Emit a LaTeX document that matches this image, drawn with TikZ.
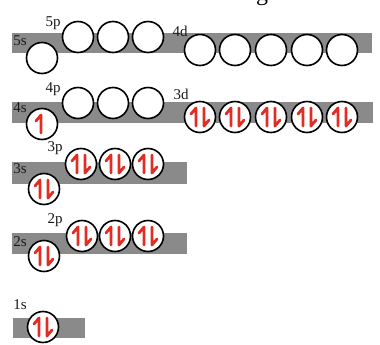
\documentclass[tikz,border=0pt]{standalone}
\usepackage{fontspec}
\setmainfont{Liberation Serif}
\definecolor{barc}{RGB}{138,138,138}
\definecolor{spin}{RGB}{225,45,35}
\tikzset{
 orb/.style={circle, draw=black, line width=1.6pt, fill=white, minimum size=31pt, inner sep=0pt},
 lvl/.style={font=\fontsize{15}{15}\selectfont, inner sep=0pt, text=black!90},
 barfill/.style={fill=barc},
 spinline/.style={draw=spin, line width=2.8pt, line cap=round, line join=round},
}
\newcommand\upspin[1]{\draw[spinline] ([shift={(-4,9)}]#1.center) -- ([shift={(-4,-9)}]#1.center) -- ([shift={(-9,-3)}]#1.center);}
\newcommand\downspin[1]{\draw[spinline] ([shift={(4,-9)}]#1.center) -- ([shift={(4,9)}]#1.center) -- ([shift={(9,3)}]#1.center);}
\newcommand\pairspin[1]{\upspin{#1}\downspin{#1}}
\begin{document}
\begin{tikzpicture}[x=1pt,y=-1pt]
\useasboundingbox (0,0) rectangle (380,345);
% cropped title fragment
\node[anchor=base, font=\fontsize{24}{24}\selectfont, inner sep=0pt] (title) at (262,1) {g};
% bars
\fill[barfill] (12,33) rectangle (372,53);
\fill[barfill] (12,102) rectangle (373,123);
\fill[barfill] (12,162) rectangle (187,184);
\fill[barfill] (12,233) rectangle (187,254);
\fill[barfill] (13,318) rectangle (85,338);
% labels
\node[lvl] (l5s) at (20,41) {5s};
\node[lvl] (l5p) at (53,23) {5p};
\node[lvl] (l4d) at (180,31) {4d};
\node[lvl] (l4s) at (20,108) {4s};
\node[lvl] (l4p) at (53,89) {4p};
\node[lvl] (l3d) at (181,94) {3d};
\node[lvl] (l3s) at (20,169) {3s};
\node[lvl] (l3p) at (55,148) {3p};
\node[lvl] (l2s) at (20,242) {2s};
\node[lvl] (l2p) at (55,220) {2p};
\node[lvl] (l1s) at (20,305) {1s};
% row 5s/5p/4d
\node[orb] (s5) at (42,58) {};
\node[orb] (p5a) at (78,37) {};
\node[orb] (p5b) at (113,37) {};
\node[orb] (p5c) at (148,37) {};
\node[orb] (d4a) at (200,50) {};
\node[orb] (d4b) at (235,50) {};
\node[orb] (d4c) at (271,50) {};
\node[orb] (d4d) at (307,50) {};
\node[orb] (d4e) at (342,50) {};
% row 4s/4p/3d
\node[orb] (s4) at (42,124) {};
\node[orb] (p4a) at (78,103) {};
\node[orb] (p4b) at (113,103) {};
\node[orb] (p4c) at (148,103) {};
\node[orb] (d3a) at (200,117) {};
\node[orb] (d3b) at (235,117) {};
\node[orb] (d3c) at (271,117) {};
\node[orb] (d3d) at (307,117) {};
\node[orb] (d3e) at (342,117) {};
% row 3s/3p
\node[orb] (s3) at (44,189) {};
\node[orb] (p3a) at (81,164) {};
\node[orb] (p3b) at (115,164) {};
\node[orb] (p3c) at (148,164) {};
% row 2s/2p
\node[orb] (s2) at (44,256) {};
\node[orb] (p2a) at (82,236) {};
\node[orb] (p2b) at (115,236) {};
\node[orb] (p2c) at (148,236) {};
% row 1s
\node[orb] (s1) at (43,327) {};
% electrons
\draw[spinline] ([shift={(-1,9)}]s4.center) -- ([shift={(-1,-9)}]s4.center) -- ([shift={(-6,-3)}]s4.center);
\pairspin{d3a}\pairspin{d3b}\pairspin{d3c}\pairspin{d3d}\pairspin{d3e}
\pairspin{s3}\pairspin{p3a}\pairspin{p3b}\pairspin{p3c}
\pairspin{s2}\pairspin{p2a}\pairspin{p2b}\pairspin{p2c}
\pairspin{s1}
\end{tikzpicture}
\end{document}
